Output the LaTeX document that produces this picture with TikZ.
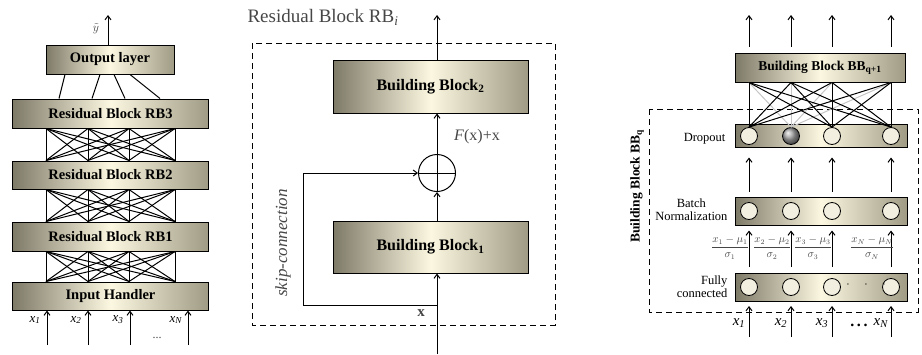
\documentclass[tikz,border=0pt]{standalone}
\usepackage{amsmath,amssymb}
\usepackage{fontspec}
\setmainfont{Liberation Serif}
\usetikzlibrary{arrows.meta,positioning,calc}
\definecolor{blockedge}{RGB}{126,122,104}
\definecolor{blockright}{RGB}{160,155,132}
\definecolor{blockmid}{RGB}{251,247,224}
\definecolor{neuronfill}{RGB}{242,239,224}
\definecolor{txtgray}{RGB}{70,70,70}

\tikzset{
  block/.style={draw, line width=1pt, left color=blockedge, right color=blockright, middle color=blockmid, inner sep=0pt, font=\fontsize{14.5}{16}\selectfont\bfseries},
  layer/.style={draw, line width=1pt, left color=blockedge, right color=blockright, middle color=blockmid, minimum width=172pt, minimum height=28pt},
  neuron/.style={circle, draw, line width=0.8pt, fill=neuronfill, minimum size=17pt, inner sep=0pt},
  conn/.style={line width=1pt},
  arr/.style={line width=1pt, -{Straight Barb[length=4pt,width=6pt]}},
  layerlab/.style={font=\fontsize{12.5}{13}\selectfont, anchor=east, align=right},
}

\begin{document}
\begin{tikzpicture}[x=1pt, y=-1pt]
    \useasboundingbox (0,0) rectangle (922,354);

    % Residual network
    \node[block, minimum width=128pt, minimum height=29pt] (outl) at (110,59.5) {Output layer};
    \node[block, minimum width=196pt, minimum height=29pt] (rb3) at (110.5,113.5) {Residual Block RB3};
    \node[block, minimum width=196pt, minimum height=28pt] (rb2) at (110.5,175) {Residual Block RB2};
    \node[block, minimum width=196pt, minimum height=29pt] (rb1) at (110.5,236.5) {Residual Block RB1};
    \node[block, minimum width=196pt, minimum height=28pt] (inh) at (110.5,296) {Input Handler};
    \foreach \t/\b in {65/59, 100/92, 114/125, 130/160} {
        \draw[conn] (outl.south -| \t,0) -- (rb3.north -| \b,0);
    }
    \foreach \up/\dn in {rb3/rb2, rb2/rb1, rb1/inh} {
        \foreach \a in {46,88,129,175} {
            \foreach \b in {46,88,129,175} {
                \draw[conn] (\up.south -| \a,0) -- (\dn.north -| \b,0);
            }
        }
    }
    \coordinate (ytop) at (108,15);
    \draw[arr] (outl.north -| ytop) -- (ytop);
    \node[text=txtgray, font=\fontsize{13}{14}\selectfont, inner sep=1pt] (ylab) at (96,29) {$\tilde{y}$};
    \foreach \x/\lab/\n in {47/1/1, 88/2/2, 130/3/3, 188/N/4} {
        \coordinate (xin\n) at (\x,345);
        \draw[arr] (xin\n) -- (inh.south -| xin\n);
        \node[font=\fontsize{13}{14}\selectfont] (xlab\n) at (\x-12,320) {\textit{x}\textsubscript{\textit{\lab}}};
    }
    \node[text=txtgray, font=\fontsize{12}{13}\selectfont] (ldots) at (157,338) {...};

    % Residual block RB_i
    \node[font=\fontsize{19}{21}\selectfont, text=txtgray, anchor=west] (rbtitle) at (244,17) {Residual Block RB\textsubscript{\textit{i}}};
    \draw[line width=1pt, dash pattern=on 6pt off 4pt] (252,43) rectangle (555,325);
    \node[block, minimum width=195pt, minimum height=53pt, font=\fontsize{16}{18}\selectfont\bfseries] (bb2) at (430.5,86.5) {Building Block\textsubscript{2}};
    \node[block, minimum width=195pt, minimum height=52pt, font=\fontsize{16}{18}\selectfont\bfseries] (bb1) at (430.5,247) {Building Block\textsubscript{1}};
    \node[circle, draw, line width=1pt, minimum size=37pt, inner sep=0pt,
          path picture={\draw[line width=1pt] (path picture bounding box.west) -- (path picture bounding box.east);
                        \draw[line width=1pt] (path picture bounding box.north) -- (path picture bounding box.south);}] (plus) at (437,173) {};
    \coordinate (rbout) at (437,15);
    \coordinate (rbin) at (437,354);
    \coordinate (skipx) at (437,305);
    \draw[arr] (bb2.north -| plus) -- (rbout);
    \draw[arr] (plus.north) -- (bb2.south -| plus);
    \draw[arr] (bb1.north -| plus) -- (plus.south);
    \draw[arr] (rbin) -- (bb1.south -| plus);
    \draw[arr] (skipx) -- ++(-134,0) |- (plus.west);
    \node[text=txtgray, font=\fontsize{15}{16}\selectfont\bfseries] (xlab) at (421,313) {x};
    \node[text=txtgray, font=\fontsize{16}{17}\selectfont] (fxlab) at (477,137) {\textit{F}(x)+x};
    \node[rotate=90, text=txtgray, font=\fontsize{17}{18}\selectfont\itshape] (skiplab) at (283,243) {skip-connection};

    % Building block BB_q
    \node[block, minimum width=170pt, minimum height=29pt, font=\fontsize{13.5}{15}\selectfont\bfseries] (bbq1) at (820,67.5) {Building Block BB\textsubscript{q+1}};
    \draw[line width=1pt, dash pattern=on 6pt off 4pt] (649,109) rectangle (918,312);
    \node[rotate=90, font=\fontsize{13.5}{15}\selectfont\bfseries] (bbqlab) at (637,186) {Building Block BB\textsubscript{q}};
    \node[layer, minimum height=23pt] (drop) at (821,135.5) {};
    \node[layer] (bn) at (821,211) {};
    \node[layer] (fc) at (821,287.5) {};
    \foreach \i/\x in {1/749,2/791,3/832,4/891} {
        \node[neuron] (b\i) at (\x,211) {};
        \node[neuron] (f\i) at (\x,287) {};
    }
    \node[neuron] (d1) at (749,136) {};
    \node[neuron, ball color=gray!70] (d2) at (791,136) {};
    \node[neuron] (d3) at (832,136) {};
    \node[neuron] (d4) at (891,136) {};
    \foreach \j in {1,...,4} {
        \draw[conn, gray!45] (d2.north) -- (bbq1.south -| d\j);
    }
    \foreach \i in {1,3,4} {
        \foreach \j in {1,...,4} {
            \draw[conn] (d\i.north) -- (bbq1.south -| d\j);
        }
    }
    \foreach \i/\x/\lab in {1/749/1, 2/791/2, 3/832/3, 4/891/N} {
        \coordinate (yout\i) at (\x,15);
        \coordinate (xinr\i) at (\x,337);
        \draw[arr, shorten <=6pt] (bbq1.north -| yout\i) -- (yout\i);
        \draw[arr, shorten <=5pt, shorten >=10pt] (bn.north -| b\i) -- (drop.south -| d\i);
        \draw[arr, shorten <=6pt, shorten >=5pt] (fc.north -| f\i) -- (bn.south -| b\i);
        \draw[arr, shorten >=4pt] (xinr\i) -- (fc.south -| f\i);
        \node[font=\fontsize{15}{16}\selectfont] (xrlab\i) at (\x-10,323) {\textit{x}\textsubscript{\textit{\lab}}};
        \node[font=\fontsize{10.5}{12}\selectfont, text=txtgray] (frac\i) at (\x-19,248) {$\dfrac{x_{\lab}-\mu_{\lab}}{\sigma_{\lab}}$};
    }
    \node[layerlab] (droplab) at (729,139) {Dropout};
    \node[layerlab, align=center] (bnlab) at (731,210) {Batch\\Normalization};
    \node[layerlab] (fclab) at (731,287) {Fully\\connected};
    \node[font=\fontsize{12}{13}\selectfont] (fcdots) at (866,285) {$\cdot\quad\cdot\quad\cdot$};
    \node[font=\fontsize{16}{17}\selectfont\bfseries] (xdots) at (859,325) {.\,.\,.};
\end{tikzpicture}
\end{document}
